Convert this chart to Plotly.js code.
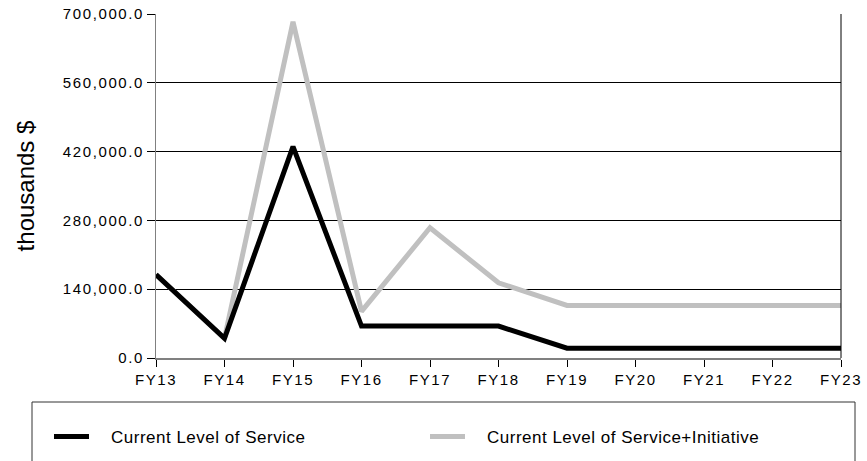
<!DOCTYPE html>
<html>
<head>
<meta charset="utf-8">
<script src="https://cdn.plot.ly/plotly-3.0.1.min.js"></script>
<style>
  html, body { margin: 0; padding: 0; background: #fff; }
  #chart { width: 867px; height: 461px; }
  .xtick text, .ytick text { letter-spacing: 1.6px; }
  .legend .legendtext { letter-spacing: 0.5px; transform: translate(17px, 0px); }
</style>
</head>
<body>
<div id="chart"></div>
<script>
// Data (thousands $)
const categories = ["FY13", "FY14", "FY15", "FY16", "FY17", "FY18", "FY19", "FY20", "FY21", "FY22", "FY23"];
const currentService = [170000, 40000, 430000, 65000, 65000, 65000, 20000, 20000, 20000, 20000, 20000];
const serviceInitiative = [170000, 40000, 684000, 95000, 265000, 153000, 107000, 107000, 107000, 107000, 107000];
const seriesNames = ["Current Level of Service", "Current Level of Service+Initiative"];
const yTickValues = [0, 140000, 280000, 420000, 560000, 700000];
const yTitle = "thousands $";

const W = 867, H = 461;
const margin = {l: 156, r: 26, t: 14, b: 103, autoexpand: false};
const plotW = W - margin.l - margin.r;
const plotH = H - margin.t - margin.b;
const px = x => (x - margin.l) / plotW;
const py = y => (H - margin.b - y) / plotH;

const FONT = "Liberation Sans, Arial, sans-serif";

const traces = [
  {
    x: categories, y: serviceInitiative, name: seriesNames[1],
    type: "scatter", mode: "lines",
    line: {color: "#c0c0c0", width: 5}
  },
  {
    x: categories, y: currentService, name: seriesNames[0],
    type: "scatter", mode: "lines",
    line: {color: "#000000", width: 5}
  }
];

const layout = {
  width: W, height: H,
  margin: margin,
  paper_bgcolor: "#ffffff",
  plot_bgcolor: "#ffffff",
  font: {family: FONT, color: "#000", size: 15},
  showlegend: true,
  legend: {
    orientation: "h",
    traceorder: "reversed",
    x: px(49), xanchor: "left",
    y: py(419), yanchor: "top",
    bgcolor: "rgba(0,0,0,0)",
    borderwidth: 0,
    font: {family: FONT, size: 17, color: "#000"},
    itemwidth: 35,
    entrywidth: 326,
    entrywidthmode: "pixels"
  },
  xaxis: {
    type: "category",
    range: [0, categories.length - 1],
    showgrid: false,
    zeroline: false,
    showline: true, linecolor: "#808080", linewidth: 2,
    ticks: "outside", ticklen: 7, tickcolor: "#000", tickwidth: 1,
    tickfont: {family: FONT, size: 15, color: "#000"},
    automargin: false,
    fixedrange: true
  },
  yaxis: {
    range: [0, 700000],
    tickvals: yTickValues,
    tickformat: ",.1f",
    showgrid: true, gridcolor: "#000", gridwidth: 1,
    zeroline: false,
    showline: true, linecolor: "#808080", linewidth: 1,
    ticks: "outside", ticklen: 8, tickcolor: "#000", tickwidth: 1,
    tickfont: {family: FONT, size: 15, color: "#000"},
    title: {text: yTitle, font: {family: FONT, size: 24, color: "#000"}, standoff: 21},
    automargin: false,
    fixedrange: true
  },
  shapes: [
    {type: "line", xref: "paper", yref: "paper", x0: 1, x1: 1, y0: 0, y1: 1,
     line: {color: "#000", width: 1}},
    {type: "rect", xref: "paper", yref: "paper",
     x0: px(32), x1: px(855), y0: py(402), y1: py(475),
     line: {color: "#333", width: 1}, fillcolor: "rgba(0,0,0,0)"}
  ]
};

Plotly.newPlot("chart", traces, layout, {displayModeBar: false, staticPlot: true});
</script>
</body>
</html>
